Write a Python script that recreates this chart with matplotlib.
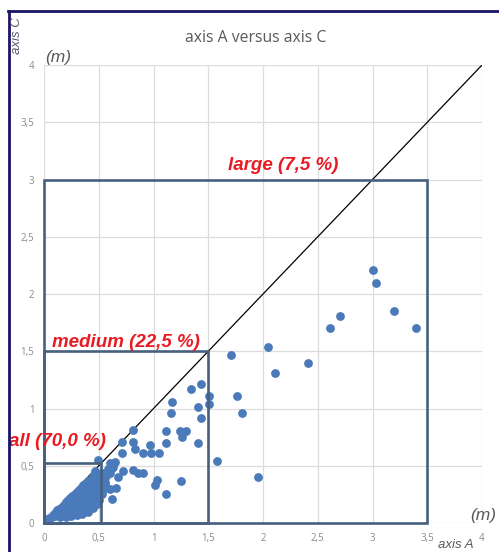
import matplotlib.pyplot as plt
from matplotlib.patches import Rectangle
from matplotlib.lines import Line2D

# scattered points (axis A, axis C) in m
axis_a = [3.00, 3.03, 3.20, 3.40, 2.70, 2.61, 2.41, 2.05, 2.11, 1.95, 1.71, 1.76, 1.81, 1.58,
          1.43, 1.34, 1.51, 1.51, 1.17, 1.16, 1.41, 1.43,
          1.11, 1.24, 1.30, 1.26, 1.11, 1.41,
          0.81, 0.71, 0.81, 0.83, 0.71, 0.90, 0.98, 1.05, 0.97,
          0.65, 0.63, 0.81, 0.86, 0.90, 0.72, 0.68, 1.03, 1.01, 1.25, 1.11, 0.62, 0.66, 0.60, 0.49]
axis_c = [2.21, 2.10, 1.85, 1.70, 1.81, 1.70, 1.40, 1.54, 1.31, 0.40, 1.47, 1.11, 0.96, 0.54,
          1.21, 1.17, 1.11, 1.04, 1.06, 0.96, 1.01, 0.92,
          0.80, 0.80, 0.80, 0.75, 0.70, 0.70,
          0.81, 0.71, 0.71, 0.65, 0.61, 0.61, 0.61, 0.61, 0.68,
          0.53, 0.49, 0.46, 0.44, 0.44, 0.45, 0.40, 0.38, 0.33, 0.37, 0.25, 0.21, 0.31, 0.30, 0.55]

# dense cluster of small values
cluster_a = [0.05, 0.07, 0.08, 0.10, 0.10, 0.12, 0.12, 0.14, 0.14, 0.15, 0.16, 0.16, 0.18, 0.18, 0.18,
             0.20, 0.20, 0.20, 0.22, 0.22, 0.22, 0.22, 0.24, 0.24, 0.24, 0.24, 0.26, 0.26, 0.26, 0.26,
             0.28, 0.28, 0.28, 0.28, 0.30, 0.30, 0.30, 0.30, 0.32, 0.32, 0.32, 0.32, 0.34, 0.34, 0.34, 0.34,
             0.36, 0.36, 0.36, 0.36, 0.38, 0.38, 0.38, 0.38, 0.40, 0.40, 0.40, 0.40, 0.42, 0.42, 0.42, 0.42,
             0.44, 0.44, 0.44, 0.46, 0.46, 0.46, 0.48, 0.48, 0.48, 0.50, 0.50, 0.50, 0.52, 0.52, 0.54, 0.54,
             0.56, 0.57, 0.58, 0.60, 0.60, 0.62, 0.45, 0.47,
             0.15, 0.20, 0.25, 0.30, 0.35, 0.40, 0.45, 0.48, 0.50, 0.53, 0.55,
             0.25, 0.32, 0.38, 0.43, 0.46, 0.50, 0.56]
cluster_c = [0.04, 0.05, 0.07, 0.06, 0.09, 0.08, 0.11, 0.09, 0.12, 0.07, 0.10, 0.14, 0.08, 0.12, 0.16,
             0.10, 0.14, 0.18, 0.09, 0.13, 0.17, 0.20, 0.11, 0.15, 0.19, 0.22, 0.13, 0.17, 0.21, 0.24,
             0.12, 0.16, 0.20, 0.25, 0.14, 0.18, 0.22, 0.27, 0.15, 0.20, 0.25, 0.29, 0.16, 0.21, 0.26, 0.31,
             0.18, 0.23, 0.28, 0.33, 0.20, 0.25, 0.30, 0.35, 0.22, 0.27, 0.32, 0.37, 0.24, 0.29, 0.34, 0.38,
             0.26, 0.31, 0.36, 0.28, 0.33, 0.38, 0.30, 0.35, 0.40, 0.32, 0.37, 0.43, 0.35, 0.40, 0.38, 0.44,
             0.36, 0.41, 0.47, 0.44, 0.52, 0.48, 0.41, 0.45,
             0.05, 0.05, 0.06, 0.07, 0.08, 0.10, 0.13, 0.17, 0.20, 0.25, 0.30,
             0.08, 0.10, 0.14, 0.18, 0.23, 0.28, 0.34]

# size classes: (upper A, upper C, label, share)
classes = [(0.52, 0.52, 'all', '70,0 %'), (1.5, 1.5, 'medium', '22,5 %'), (3.5, 3.0, 'large', '7,5 %')]
label_pos = [(0.127, 0.716), (0.745, 1.58), (2.18, 3.12)]

ticks = [0, 0.5, 1, 1.5, 2, 2.5, 3, 3.5, 4]
tick_labels = ['0', '0,5', '1', '1,5', '2', '2,5', '3', '3,5', '4']

fig = plt.figure(figsize=(4.99, 5.52), dpi=100)
ax = fig.add_axes([0.0882, 0.0525, 0.8778, 0.8297])

ax.set_xlim(0, 4)
ax.set_ylim(0, 4)
ax.set_xticks(ticks)
ax.set_yticks(ticks)
ax.set_xticklabels(tick_labels)
ax.set_yticklabels(tick_labels)
ax.tick_params(length=0, labelsize=7, labelcolor='#8c8c8c', pad=7)
for lab in ax.get_xticklabels() + ax.get_yticklabels():
    lab.set_family('Open Sans')
ax.grid(color='#dcdcdc', linewidth=0.9)
ax.set_axisbelow(True)
for sp in ax.spines.values():
    sp.set_visible(False)

# 1:1 line
ax.plot([0, 4], [0, 4], color='black', linewidth=0.9, zorder=2)

ax.scatter(cluster_a, cluster_c, s=40, color='#4a7ab9', linewidths=0, zorder=3)
ax.scatter(axis_a, axis_c, s=40, color='#4a7ab9', linewidths=0, zorder=3)

for (w, h, name, share), (lx, ly) in zip(classes, label_pos):
    ax.add_patch(Rectangle((0, 0), w, h, fill=False, edgecolor='#46607e', linewidth=1.9,
                           zorder=4, clip_on=False))
    ax.text(lx, ly, f'{name} ({share})', color='#e81b23', fontsize=13.5, fontweight='bold',
            fontstyle='italic', family='Liberation Sans', ha='center', va='center',
            clip_on=False, zorder=5)

fig.text(0.513, 0.932, 'axis A versus axis C', fontsize=11.3, color='#595959',
         family='Open Sans', ha='center', va='center')
fig.text(0.034, 0.935, 'axis C', fontsize=9.5, color='#5a5a6e', rotation=90,
         fontstyle='italic', family='Liberation Sans', ha='center', va='center')
fig.text(0.116, 0.895, '(m)', fontsize=12.5, color='#595959', fontstyle='italic',
         family='Liberation Sans', ha='center', va='center')
fig.text(0.968, 0.067, '(m)', fontsize=12.5, color='#595959', fontstyle='italic',
         family='Liberation Sans', ha='center', va='center')
fig.text(0.914, 0.013, 'axis A', fontsize=9.5, color='#595959', fontstyle='italic',
         family='Liberation Sans', ha='center', va='center')

# navy frame on left and top
fig.add_artist(Line2D([0.018, 0.018], [0.0, 0.98], color='#1a1466', linewidth=2))
fig.add_artist(Line2D([0.017, 1.0], [0.98, 0.98], color='#1a1466', linewidth=2))

fig.savefig('out.png', dpi=100)
